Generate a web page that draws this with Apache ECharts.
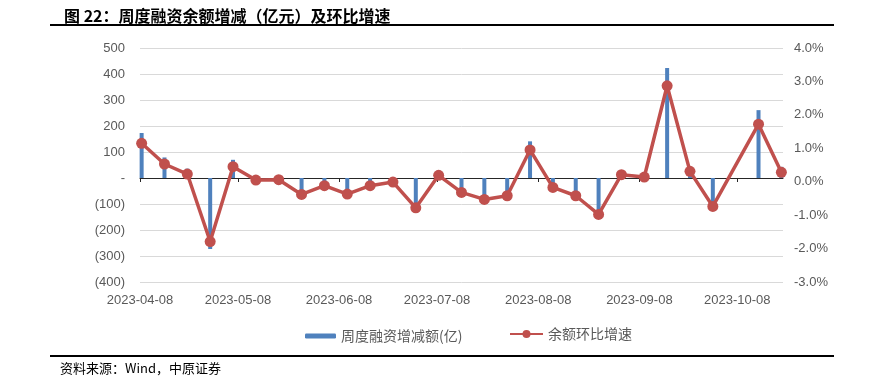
<!DOCTYPE html>
<html>
<head>
<meta charset="utf-8">
<script src="https://cdn.jsdelivr.net/npm/echarts@6/dist/echarts.min.js"></script>
<style>
html,body{margin:0;padding:0;background:#fff;}
#c{width:884px;height:384px;}
</style>
</head>
<body>
<div id="c"></div>
<script>
// Weekly dates (2023-10-07 week absent: National Day holiday)
const dates = ['2023-04-08','2023-04-15','2023-04-22','2023-04-29','2023-05-06','2023-05-13','2023-05-20','2023-05-27',
  '2023-06-03','2023-06-10','2023-06-17','2023-06-24','2023-07-01','2023-07-08','2023-07-15','2023-07-22','2023-07-29',
  '2023-08-05','2023-08-12','2023-08-19','2023-08-26','2023-09-02','2023-09-09','2023-09-16','2023-09-23','2023-09-30',
  '2023-10-14','2023-10-21'];
const weeklyChange = [173, 79, 36, -273, 70, 7, 9, -57, -20, -55, -18, -3, -115, 28, -50, -75, -62,
  141, -28, -60, -140, 30, 20, 423, 35, -110, 261, 43];
const growthPct = [1.15, 0.53, 0.23, -1.79, 0.45, 0.05, 0.06, -0.38, -0.12, -0.37, -0.12, -0.01, -0.78, 0.19,
  -0.32, -0.53, -0.42, 0.95, -0.17, -0.42, -0.98, 0.21, 0.14, 2.87, 0.31, -0.74, 1.72, 0.28];
const xTickLabels = ['2023-04-08','2023-05-08','2023-06-08','2023-07-08','2023-08-08','2023-09-08','2023-10-08'];
const seriesNames = ['周度融资增减额(亿)', '余额环比增速'];

function dayNum(s){ const p = s.split('-').map(Number); return Date.UTC(p[0], p[1]-1, p[2]) / 864e5; }
const d0 = dayNum(dates[0]);
// Excel-style date axis: each point sits at the centre of its day
const xs = dates.map(d => dayNum(d) - d0 + 0.5);
const tickVals = xTickLabels.map(d => dayNum(d) - d0);
const xMax = dayNum(dates[dates.length-1]) - d0 + 1;
const labelMap = {}; tickVals.forEach((v,i)=>labelMap[v]=xTickLabels[i]);

const font = 'Liberation Sans, Arial, sans-serif';
const cjk = '"Noto Sans CJK SC", sans-serif';
const chart = echarts.init(document.getElementById('c'), null, {renderer:'canvas'});
chart.setOption({
  animation:false,
  backgroundColor:'#fff',
  title:{text:'图 22：周度融资余额增减（亿元）及环比增速', left:59, top:3,
    textStyle:{fontFamily:cjk, fontSize:16, fontWeight:'bold', color:'#000'}},
  graphic:[
    {type:'rect', shape:{x:50,y:24,width:784,height:2}, style:{fill:'#000'}},
    {type:'rect', shape:{x:50,y:355,width:784,height:2}, style:{fill:'#000'}},
    {type:'text', left:60, top:362, style:{text:'资料来源：Wind，中原证券', font:'13px "Noto Sans CJK SC", sans-serif', fill:'#000'}}
  ],
  legend:[
    {data:[seriesNames[0]], left:300, top:324, itemWidth:31, itemHeight:5, itemGap:10,
      textStyle:{fontFamily:cjk, fontSize:14, color:'#595959'}},
    {data:[seriesNames[1]], left:504, top:322, itemWidth:33, itemHeight:10,
      textStyle:{fontFamily:cjk, fontSize:14, color:'#595959'}}
  ],
  grid:{left:140, right:101, top:48, bottom:102, containLabel:false},
  xAxis:[
    {type:'value', min:0, max:xMax, position:'bottom',
      axisLine:{show:true, onZero:true, onZeroAxisIndex:0, lineStyle:{color:'#262626', width:1}},
      axisTick:{show:true, customValues:tickVals, length:4, inside:false, lineStyle:{color:'#262626'}},
      axisLabel:{show:false}, splitLine:{show:false}},
    {type:'value', min:0, max:xMax, position:'bottom',
      axisLine:{show:false, onZero:false}, axisTick:{show:false}, splitLine:{show:false},
      axisLabel:{show:true, customValues:tickVals, margin:12, fontFamily:font, fontSize:13, color:'#595959',
        formatter:v=>labelMap[v] || ''}}
  ],
  yAxis:[
    {type:'value', min:-400, max:500, interval:100,
      axisLine:{show:false}, axisTick:{show:false},
      splitLine:{show:true, lineStyle:{color:'#d9d9d9', width:1}},
      axisLabel:{margin:15, fontFamily:font, fontSize:13, color:'#595959',
        formatter:v=> v===0 ? '-' : (v<0 ? '('+Math.abs(v)+')' : String(v))}},
    {type:'value', min:-3, max:4, interval:1,
      axisLine:{show:false}, axisTick:{show:false}, splitLine:{show:false},
      axisLabel:{margin:11, fontFamily:font, fontSize:13, color:'#595959',
        formatter:v=>v.toFixed(1)+'%'}}
  ],
  series:[
    {name:seriesNames[0], type:'bar', xAxisIndex:0, yAxisIndex:0, barWidth:4,
      itemStyle:{color:'#4f81bd'}, z:2,
      data:xs.map((x,i)=>[x, weeklyChange[i]])},
    {name:seriesNames[1], type:'line', xAxisIndex:0, yAxisIndex:1,
      symbol:'circle', symbolSize:11, lineStyle:{color:'#c0504d', width:3.5},
      itemStyle:{color:'#c0504d'}, z:3,
      data:xs.map((x,i)=>[x, growthPct[i]])}
  ]
});
</script>
</body>
</html>
